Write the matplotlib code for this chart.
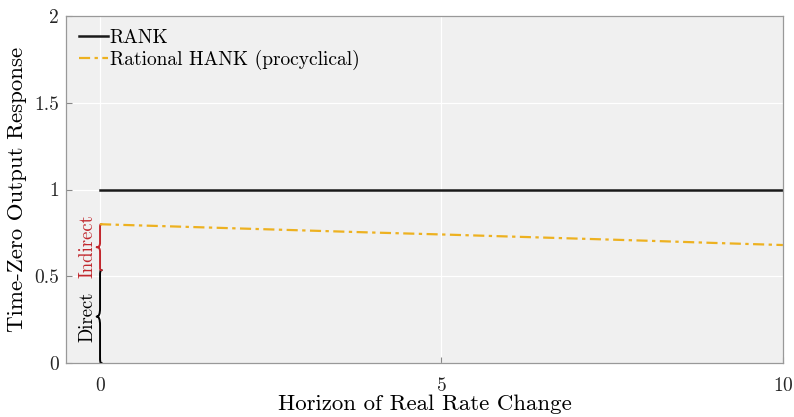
import matplotlib
matplotlib.use("Agg")
import matplotlib.pyplot as plt
from matplotlib.path import Path
from matplotlib.patches import PathPatch

plt.rcParams['font.family'] = 'serif'
plt.rcParams['font.serif'] = ['cmr10']
plt.rcParams['mathtext.fontset'] = 'cm'
plt.rcParams['axes.formatter.use_mathtext'] = True

# Horizon of real rate change and time-zero output response
horizon = [0, 1, 2, 3, 4, 5, 6, 7, 8, 9, 10]
rank = [1, 1, 1, 1, 1, 1, 1, 1, 1, 1, 1]
hank = [0.80, 0.788, 0.776, 0.764, 0.752, 0.741, 0.729, 0.717, 0.705, 0.692, 0.68]

# Direct / indirect decomposition at horizon zero
direct_top = 0.535
total_top = hank[0]


def vbrace(ax, x, y0, y1, color, w=0.05, lw=1.4):
    # vertical curly brace with its tip pointing left
    ym = (y0 + y1) / 2
    h = y1 - y0
    e = min(0.05, h * 0.1)
    verts = [
        (x + w * 0.5, y0),
        (x, y0), (x, y0), (x, y0 + e),
        (x, ym - e),
        (x, ym - e * 0.3), (x - w * 0.3, ym), (x - w, ym),
        (x - w * 0.3, ym), (x, ym + e * 0.3), (x, ym + e),
        (x, y1 - e),
        (x, y1), (x, y1), (x + w * 0.5, y1),
    ]
    codes = [Path.MOVETO,
             Path.CURVE4, Path.CURVE4, Path.CURVE4,
             Path.LINETO,
             Path.CURVE4, Path.CURVE4, Path.CURVE4,
             Path.CURVE4, Path.CURVE4, Path.CURVE4,
             Path.LINETO,
             Path.CURVE4, Path.CURVE4, Path.CURVE4]
    ax.add_patch(PathPatch(Path(verts, codes), fill=False, ec=color, lw=lw,
                           capstyle='round', joinstyle='round'))


fig = plt.figure(figsize=(7.94, 4.17), dpi=100)
ax = fig.add_axes([0.083, 0.1295, 0.903, 0.832])
ax.set_facecolor('#f0f0f0')
ax.grid(True, color='white', lw=0.9)
ax.set_axisbelow(True)

ax.plot(horizon, rank, color='#1a1a1a', lw=1.8, label='RANK')
ax.plot(horizon, hank, color='#edb120', lw=1.6, ls=(0, (5, 2, 1.5, 2)),
        label='Rational HANK (procyclical)')

red = '#c1272d'
vbrace(ax, 0, 0, direct_top, 'black')
vbrace(ax, 0, direct_top, total_top, red)
ax.text(-0.19, direct_top / 2, 'Direct', rotation=90, ha='center', va='center',
        fontsize=13.5, color='black')
ax.text(-0.19, (direct_top + total_top) / 2 + 0.005, 'Indirect', rotation=90,
        ha='center', va='center', fontsize=13.5, color=red)

ax.set_xlim(-0.5, 10)
ax.set_ylim(0, 2)
ax.set_xticks([0, 5, 10])
ax.set_yticks([0, 0.5, 1, 1.5, 2])
ax.set_yticklabels(['0', '0.5', '1', '1.5', '2'])
ax.tick_params(direction='in', length=4, color='#888888', labelsize=14,
               labelcolor='#262626', top=False, right=False)
ax.tick_params(axis='x', pad=10)
ax.tick_params(axis='y', pad=5)
for s in ax.spines.values():
    s.set_color('#999999')
    s.set_linewidth(0.9)

ax.set_xlabel('Horizon of Real Rate Change', fontsize=16.5, labelpad=0)
ax.set_ylabel('Time-Zero Output Response', fontsize=16.5, labelpad=5)

leg = ax.legend(loc='upper left', frameon=False, fontsize=14, handlelength=1.5,
                handletextpad=0.1, borderaxespad=0.25, labelspacing=0.15)

fig.savefig('out.png', dpi=100)
